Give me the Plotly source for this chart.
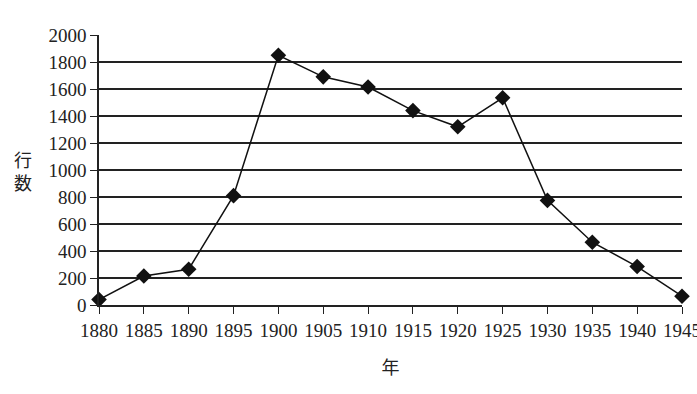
import plotly.graph_objects as go

years = [1880, 1885, 1890, 1895, 1900, 1905, 1910, 1915, 1920, 1925, 1930, 1935, 1940, 1945]
lines = [40, 215, 265, 810, 1850, 1690, 1615, 1440, 1320, 1535, 775, 465, 285, 65]
y_ticks = list(range(0, 2001, 200))
x_title = "年"
y_title = "行<br>数"

font_family = "Liberation Serif, DejaVu Serif, serif"

fig = go.Figure()
fig.add_trace(go.Scatter(
    x=years, y=lines, mode="lines+markers",
    line=dict(color="#111111", width=1.5),
    marker=dict(symbol="diamond", size=12, color="#111111"),
    cliponaxis=False, showlegend=False,
))

fig.update_layout(
    width=697, height=394,
    margin=dict(l=99, r=15, t=35, b=89),
    paper_bgcolor="white", plot_bgcolor="white",
    font=dict(family=font_family, size=19, color="#222222"),
    xaxis=dict(
        range=[1880, 1945], tickmode="array", tickvals=years,
        ticktext=[str(y) for y in years],
        showgrid=False, zeroline=False,
        showline=True, linecolor="#222222", linewidth=1.5,
        ticks="outside", ticklen=7, tickcolor="#222222", tickwidth=1.2,
        automargin=False, ticklabeloverflow="allow",
        title=dict(text=x_title, font=dict(size=18, family="Noto Sans CJK JP"), standoff=22),
    ),
    yaxis=dict(
        range=[0, 2000], tickmode="array", tickvals=y_ticks,
        showgrid=True, gridcolor="#222222", gridwidth=1.5,
        zeroline=False,
        showline=True, linecolor="#222222", linewidth=1.5,
        ticks="outside", ticklen=7, tickcolor="#222222", tickwidth=1.2,
        automargin=False, ticklabeloverflow="allow",
    ),
)

fig.add_annotation(
    text=y_title, xref="paper", yref="paper", x=-0.13, y=0.5,
    xanchor="center", yanchor="middle", showarrow=False,
    font=dict(size=18, family="Noto Sans CJK JP", color="#222222"),
)

fig.write_html("out.html")
